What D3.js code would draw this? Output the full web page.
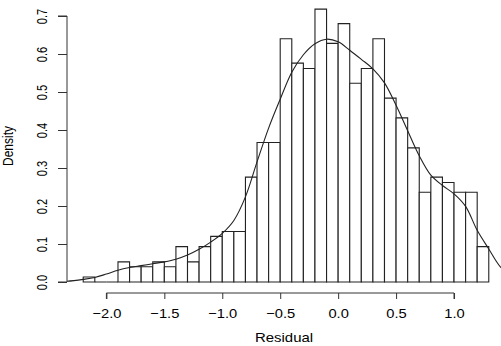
<!DOCTYPE html>
<html><head><meta charset="utf-8">
<script src="https://cdn.jsdelivr.net/npm/d3@7"></script>
<style>
html,body{margin:0;padding:0;background:#fff;}
svg{display:block;}
text{font-family:"Liberation Sans",Arial,sans-serif;fill:#000;}
</style></head>
<body>
<script>
// Histogram bins (lower and upper edges) and density heights
const binStart = [-2.2,-2.1,-2.0,-1.9,-1.8,-1.7,-1.6,-1.5,-1.4,-1.3,-1.2,-1.1,-1.0,-0.9,-0.8,-0.7,-0.6,-0.5,-0.4,-0.3,-0.2,-0.1,0.0,0.1,0.2,0.3,0.4,0.5,0.6,0.7,0.8,0.9,1.0,1.1,1.2];
const binEnd   = [-2.1,-2.0,-1.9,-1.8,-1.7,-1.6,-1.5,-1.4,-1.3,-1.2,-1.1,-1.0,-0.9,-0.8,-0.7,-0.6,-0.5,-0.4,-0.3,-0.2,-0.1,0.0,0.1,0.2,0.3,0.4,0.5,0.6,0.7,0.8,0.9,1.0,1.1,1.2,1.3];
const binDensity = [0.013,0,0,0.053,0.040,0.040,0.053,0.040,0.093,0.053,0.093,0.120,0.133,0.133,0.276,0.367,0.367,0.640,0.576,0.562,0.718,0.628,0.680,0.523,0.562,0.640,0.484,0.432,0.353,0.236,0.276,0.262,0.236,0.236,0.093];

// Kernel density curve
const kdeX = [-2.45,-2.34,-2.2,-2.1,-2.0,-1.9,-1.8,-1.7,-1.6,-1.5,-1.4,-1.3,-1.2,-1.1,-1.0,-0.9,-0.8,-0.7,-0.6,-0.5,-0.4,-0.3,-0.2,-0.1,0.0,0.1,0.2,0.3,0.4,0.5,0.6,0.7,0.8,0.9,1.0,1.1,1.2,1.3,1.4,1.5];
const kdeY = [0.001,0.002,0.007,0.012,0.021,0.031,0.038,0.043,0.048,0.053,0.060,0.071,0.086,0.105,0.128,0.162,0.224,0.316,0.405,0.481,0.552,0.598,0.627,0.639,0.632,0.610,0.586,0.561,0.524,0.465,0.398,0.332,0.281,0.254,0.232,0.199,0.136,0.087,0.040,0.015];

const xTicks = [-2.0,-1.5,-1.0,-0.5,0.0,0.5,1.0];
const yTicks = [0.0,0.1,0.2,0.3,0.4,0.5,0.6,0.7];
const xLabel = "Residual";
const yLabel = "Density";

const W = 501, H = 346;
const svg = d3.select("body").append("svg").attr("width", W).attr("height", H);

const x = d3.scaleLinear().domain([-2.34, 1.44]).range([67, 505]);
const y = d3.scaleLinear().domain([0, 0.7]).range([282, 16]);

svg.append("clipPath").attr("id","plotclip")
  .append("rect").attr("x",67).attr("y",0).attr("width",438).attr("height",293);

// bars
const bars = svg.append("g");
binDensity.forEach((d, i) => {
  const x0 = x(binStart[i]), x1 = x(binEnd[i]), y0 = y(0), y1 = y(d);
  bars.append("path")
    .attr("d", `M${x0},${y0}V${y1}H${x1}V${y0}Z`)
    .attr("fill", "#fff").attr("stroke", "#222").attr("stroke-width", 1.1);
});

// density curve
const line = d3.line().x((d,i)=>x(kdeX[i])).y(d=>y(d)).curve(d3.curveCatmullRom.alpha(0.5));
svg.append("path").attr("clip-path","url(#plotclip)")
  .attr("d", line(kdeY)).attr("fill","none").attr("stroke","#222").attr("stroke-width",1.1);

// x axis (R style)
const xAxisY = 293;
const xa = svg.append("g").attr("transform", `translate(0,${xAxisY})`)
  .call(d3.axisBottom(x).tickValues(xTicks).tickSize(6).tickPadding(0)
        .tickFormat(d => d3.format(".1f")(d).replace("-", "\u2212")));
xa.select(".domain").attr("d", `M${x(xTicks[0])},6V0H${x(xTicks[xTicks.length-1])}V6`).attr("stroke","#333");
xa.selectAll(".tick line").attr("stroke","#333");
xa.selectAll(".tick text").attr("font-size", null).attr("y", null).attr("dy", null)
  .attr("transform", "translate(0,25) scale(1.13,1)")
  .style("font-size","13px").attr("fill","#000");

// y axis
const ya = svg.append("g").attr("transform", "translate(67,0)")
  .call(d3.axisLeft(y).tickValues(yTicks).tickSize(9).tickFormat(d3.format(".1f")));
ya.select(".domain").attr("d", `M-9,${y(0)}H0V${y(0.7)}H-9`).attr("stroke","#333");
ya.selectAll(".tick line").attr("stroke","#333");
ya.selectAll(".tick text").attr("x", null).attr("dy", null)
  .attr("transform", "translate(-20,0) rotate(-90) scale(1,1.25)")
  .attr("text-anchor","middle").style("font-size","11px");

// labels
svg.append("text").attr("text-anchor","middle")
  .attr("transform", `translate(${(x(-2.34)+x(1.44))/2 - 2},342) scale(1.15,1)`)
  .style("font-size","13px").text(xLabel);
svg.append("text").attr("text-anchor","middle")
  .attr("transform", "translate(13,146) rotate(-90) scale(1,1.25)")
  .style("font-size","12px").text(yLabel);
</script>
</body></html>
